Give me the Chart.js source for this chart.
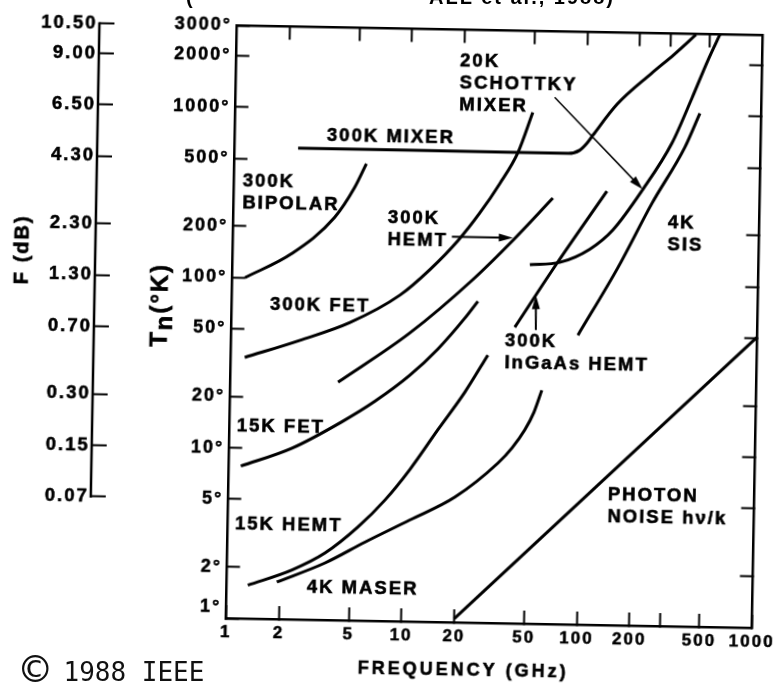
<!DOCTYPE html>
<html>
<head>
<meta charset="utf-8">
<title>Receiver noise temperature vs frequency</title>
<script src="https://cdn.jsdelivr.net/npm/chart.js@4.4.1/dist/chart.umd.min.js"></script>
<style>
  html, body { margin: 0; padding: 0; background: #fff; overflow: hidden; }
  #wrap {
    position: absolute; left: 0; top: 0; width: 781px; height: 687px;
    transform: rotate(1.05deg); transform-origin: 494px 324px;
  }
  #copy {
    position: absolute; left: 22px; top: 657px;
    font: 26px 'DejaVu Sans Mono', monospace; color: #111; white-space: nowrap;
  }
  #copy span { font-size: 44px; line-height: 26px; vertical-align: -4px; margin-right: 15px; }
  .cut {
    position: absolute; top: -14px; line-height: 20px; white-space: nowrap;
    font: bold 20px "Liberation Sans", Arial, sans-serif; letter-spacing: 2px; color: #000;
  }
</style>
</head>
<body>
<div id="wrap"><canvas id="noiseChart"></canvas></div>
<div class="cut" style="left:186px">(</div>
<div class="cut" style="right:166px">ALL et al., 1988)</div>
<div id="copy"><span>©</span>1988 IEEE</div>
<script>
// axis ticks
const freqTicks = [1, 2, 5, 10, 20, 50, 100, 200, 300, 500, 1000];
const freqLabels = ['1', '2', '5', '10', '20', '50', '100', '200', '', '500', '1000'];
const tempTicks = [1, 2, 5, 10, 20, 50, 100, 200, 500, 1000, 2000, 3000];
const fTicks = [5, 10, 20, 50, 100, 200, 500, 1000, 2000, 3000];
const fLabels = ['0.07', '0.15', '0.30', '0.70', '1.30', '2.30', '4.30', '6.50', '9.00', '10.50'];

// curves: frequency (GHz) / noise temperature (K)
const bipolarF = [1.18, 2.17, 3.77, 4.87, 5.66];
const bipolarT = [100, 140, 230, 346, 480];
const mixerF = [2.3, 10, 40, 80, 93, 102, 110, 150, 233, 313, 416];
const mixerT = [582, 582, 581, 580, 608, 669, 746, 1140, 1740, 2265, 2980];
const fet300F = [1.2, 2.47, 4.74, 9.07, 13.4, 19.2, 25.4, 32.8, 41.3, 49.7];
const fet300T = [34, 43.5, 56, 82, 117, 174, 254, 380, 580, 1000];
const hemt300F = [4.11, 10.4, 23.3, 39.5, 66];
const hemt300T = [24.9, 49.2, 102, 177, 316];
const fet15F = [1.17, 2.28, 4.36, 6.69, 10.55, 15.1, 21.4, 25.3];
const fet15T = [7.83, 10.1, 14.6, 19.4, 27.9, 39.9, 61.1, 77];
const hemt15F = [1.32, 2.35, 3.61, 5.53, 7.82, 10.8, 15.4, 21.8, 29.2];
const hemt15T = [1.57, 1.95, 2.47, 3.54, 5.12, 7.82, 13.4, 22.5, 37.3];
const maserF = [1.93, 3.62, 6.08, 10.9, 19.6, 34.2, 41, 48.3, 54.2, 59.8];
const maserT = [1.65, 2.16, 2.89, 3.94, 5.43, 8.69, 10.7, 13.7, 17.4, 23.5];
const ingaasF = [41.3, 70.7, 134];
const ingaasT = [54.7, 131, 352];
const schottkyF = [49.6, 73.5, 108.6, 146, 215, 311, 400, 489, 569];
const schottkyT = [128, 133, 160, 208, 364, 683, 1260, 2110, 3000];
const sisF = [94.8, 158, 243, 369, 446];
const sisT = [49.9, 126, 302, 649, 1030];
const photonF = [20, 1000];
const photonT = [1.05, 51];

const curves = [
  [bipolarF, bipolarT], [mixerF, mixerT], [fet300F, fet300T], [hemt300F, hemt300T],
  [fet15F, fet15T], [hemt15F, hemt15T], [maserF, maserT], [ingaasF, ingaasT],
  [schottkyF, schottkyT], [sisF, sisT], [photonF, photonT],
];

// text labels and arrows, anchored in data coordinates
const notes = [
  { lines: ['300K MIXER'], f: 3.35, t: 689 },
  { lines: ['20K', 'SCHOTTKY', 'MIXER'], f: 18.9, t: 1950 },
  { lines: ['300K', 'BIPOLAR'], f: 1.12, t: 367 },
  { lines: ['300K', 'HEMT'], f: 7.6, t: 231 },
  { lines: ['300K FET'], f: 1.65, t: 70 },
  { lines: ['15K FET'], f: 1.1, t: 13.4 },
  { lines: ['15K HEMT'], f: 1.1, t: 3.57 },
  { lines: ['4K MASER'], f: 2.87, t: 1.55 },
  { lines: ['300K', 'InGaAs HEMT'], f: 36.4, t: 45.2 },
  { lines: ['4K', 'SIS'], f: 301, t: 232 },
  { lines: ['PHOTON', 'NOISE hν/k'], f: 146, t: 5.8 },
];
const arrows = [
  { from: [66, 1235], to: [214, 364], w: 1.5 },
  { from: [17.7, 183], to: [39.4, 183], w: 2 },
  { from: [54.5, 52.9], to: [54.1, 84.8], w: 2 },
];

const FONT = '"Liberation Sans", Arial, Helvetica, sans-serif';
Chart.defaults.font.family = FONT;
Chart.defaults.color = '#000';

function drawArrow(ctx, x1, y1, x2, y2, w) {
  const a = Math.atan2(y2 - y1, x2 - x1);
  const len = 14, half = 4;
  const c = Math.cos(a), s = Math.sin(a);
  ctx.lineWidth = w;
  ctx.beginPath();
  ctx.moveTo(x1, y1);
  ctx.lineTo(x2 - c * len * 0.7, y2 - s * len * 0.7);
  ctx.stroke();
  ctx.beginPath();
  ctx.moveTo(x2, y2);
  ctx.lineTo(x2 - c * len + s * half, y2 - s * len - c * half);
  ctx.lineTo(x2 - c * len - s * half, y2 - s * len + c * half);
  ctx.closePath();
  ctx.fill();
}

// heavy text: fill plus a thin outline, like the inked originals
function inkText(ctx, s, x, y) {
  ctx.fillText(s, x, y);
  ctx.strokeText(s, x, y);
}

const decor = {
  id: 'decor',
  beforeLayout(chart) { chart.ctx.letterSpacing = '2px'; },
  beforeDraw(chart) { chart.ctx.letterSpacing = '2px'; },
  afterDraw(chart) {
    const { ctx, chartArea, scales } = chart;
    const xs = scales.x, ys = scales.y, fs = scales.yF;
    ctx.save();
    ctx.fillStyle = '#000';
    ctx.strokeStyle = '#000';

    // F (dB) axis line, only over its labelled span
    ctx.lineWidth = 2.5;
    ctx.beginPath();
    ctx.moveTo(fs.right, fs.getPixelForValue(fTicks[fTicks.length - 1]) - 1);
    ctx.lineTo(fs.right, fs.getPixelForValue(fTicks[0]) + 1);
    ctx.stroke();

    arrows.forEach(a => {
      drawArrow(ctx,
        xs.getPixelForValue(a.from[0]), ys.getPixelForValue(a.from[1]),
        xs.getPixelForValue(a.to[0]), ys.getPixelForValue(a.to[1]), a.w);
    });

    // curve labels
    ctx.font = 'bold 18.5px ' + FONT;
    ctx.letterSpacing = '2px';
    ctx.lineWidth = 0.6;
    ctx.textAlign = 'left';
    ctx.textBaseline = 'middle';
    notes.forEach(n => {
      const px = xs.getPixelForValue(n.f);
      const py = ys.getPixelForValue(n.t);
      n.lines.forEach((s, i) => inkText(ctx, s, px, py + i * 22));
    });

    // x title
    ctx.font = 'bold 18px ' + FONT;
    ctx.letterSpacing = '3px';
    ctx.textAlign = 'center';
    inkText(ctx, 'FREQUENCY (GHz)', chartArea.left + 238, chartArea.bottom + 48);

    // Tn(°K) title with subscript
    ctx.save();
    ctx.translate(chartArea.left - 65, 311);
    ctx.rotate(-Math.PI / 2);
    ctx.font = 'bold 24px ' + FONT;
    ctx.letterSpacing = '2px';
    ctx.textAlign = 'left';
    ctx.textBaseline = 'alphabetic';
    const parts = [['T', 0], ['n', 5], ['(°K)', 0]];
    const total = parts.reduce((sum, p) => sum + ctx.measureText(p[0]).width, 0);
    let pos = -total / 2;
    parts.forEach(([s, dy]) => {
      inkText(ctx, s, pos, dy);
      pos += ctx.measureText(s).width;
    });
    ctx.restore();

    // F (dB) title
    ctx.save();
    ctx.translate(21, 258);
    ctx.rotate(-Math.PI / 2);
    ctx.font = 'bold 20px ' + FONT;
    ctx.letterSpacing = '2px';
    ctx.textAlign = 'center';
    ctx.textBaseline = 'middle';
    inkText(ctx, 'F (dB)', 0, 0);
    ctx.restore();

    ctx.restore();
  }
};

const border = { display: true, color: '#000', width: 2.5 };
const inward = {
  display: true, drawOnChartArea: false, drawTicks: true,
  tickLength: -13, tickWidth: 2, color: '#000', tickColor: '#000',
};
const setTicks = values => scale => { scale.ticks = values.map(v => ({ value: v })); };
const tickText = size => ({
  autoSkip: false, color: '#000', textStrokeColor: '#000', textStrokeWidth: 0.5,
  font: { size, weight: 'bold' },
});
// fixed box sizes, and no extra room reserved for edge labels
const fixBox = (w, h) => s => {
  if (w !== null) s.width = w;
  if (h !== null) s.height = h;
  s.paddingLeft = s.paddingRight = s.paddingTop = s.paddingBottom = 0;
};
// the bottom label sits a little above the corner in the original
const tempLabel = (v, i) => (i === 0 ? [tempTicks[i] + '°', ''] : tempTicks[i] + '°');

new Chart(document.getElementById('noiseChart'), {
  type: 'line',
  data: {
    datasets: curves.map(([fs, ts]) => ({
      data: fs.map((f, i) => ({ x: f, y: ts[i] })),
      borderColor: '#000',
      borderWidth: 3,
      pointRadius: 0,
      fill: false,
      cubicInterpolationMode: 'monotone',
    })),
  },
  options: {
    responsive: true,
    maintainAspectRatio: false,
    animation: false,
    layout: { autoPadding: false, padding: { left: 0, right: 23.5, top: 30.5, bottom: 0 } },
    plugins: { legend: { display: false }, tooltip: { enabled: false } },
    scales: {
      x: {
        type: 'logarithmic', position: 'bottom', min: 1, max: 1000,
        border, grid: inward,
        afterBuildTicks: setTicks(freqTicks),
        afterFit: fixBox(null, 64),
        ticks: { ...tickText(17), maxRotation: 0, padding: 17, callback: (v, i) => freqLabels[i] },
      },
      x2: {
        type: 'logarithmic', position: 'top', min: 1, max: 1000,
        border, grid: inward,
        afterBuildTicks: setTicks(freqTicks.slice(1, -1)),
        afterFit: fixBox(null, 0),
        ticks: { display: false },
      },
      y: {
        type: 'logarithmic', position: 'left', weight: 5, min: 1, max: 3000,
        border, grid: inward,
        afterBuildTicks: setTicks(tempTicks),
        afterFit: fixBox(137.5, null),
        ticks: { ...tickText(18), padding: 18, callback: tempLabel },
      },
      y2: {
        type: 'logarithmic', position: 'right', min: 1, max: 3000,
        border, grid: inward,
        afterBuildTicks: setTicks(tempTicks.slice(1, -1)),
        afterFit: fixBox(0, null),
        ticks: { display: false },
      },
      yF: {
        type: 'logarithmic', position: 'left', weight: 10, min: 1, max: 3000,
        border: { display: false },
        grid: { ...inward, tickLength: -15 },
        afterBuildTicks: setTicks(fTicks),
        afterFit: fixBox(94, null),
        ticks: { ...tickText(18.5), padding: 17, callback: (v, i) => fLabels[i] },
      },
    },
  },
  plugins: [decor],
});
</script>
</body>
</html>
